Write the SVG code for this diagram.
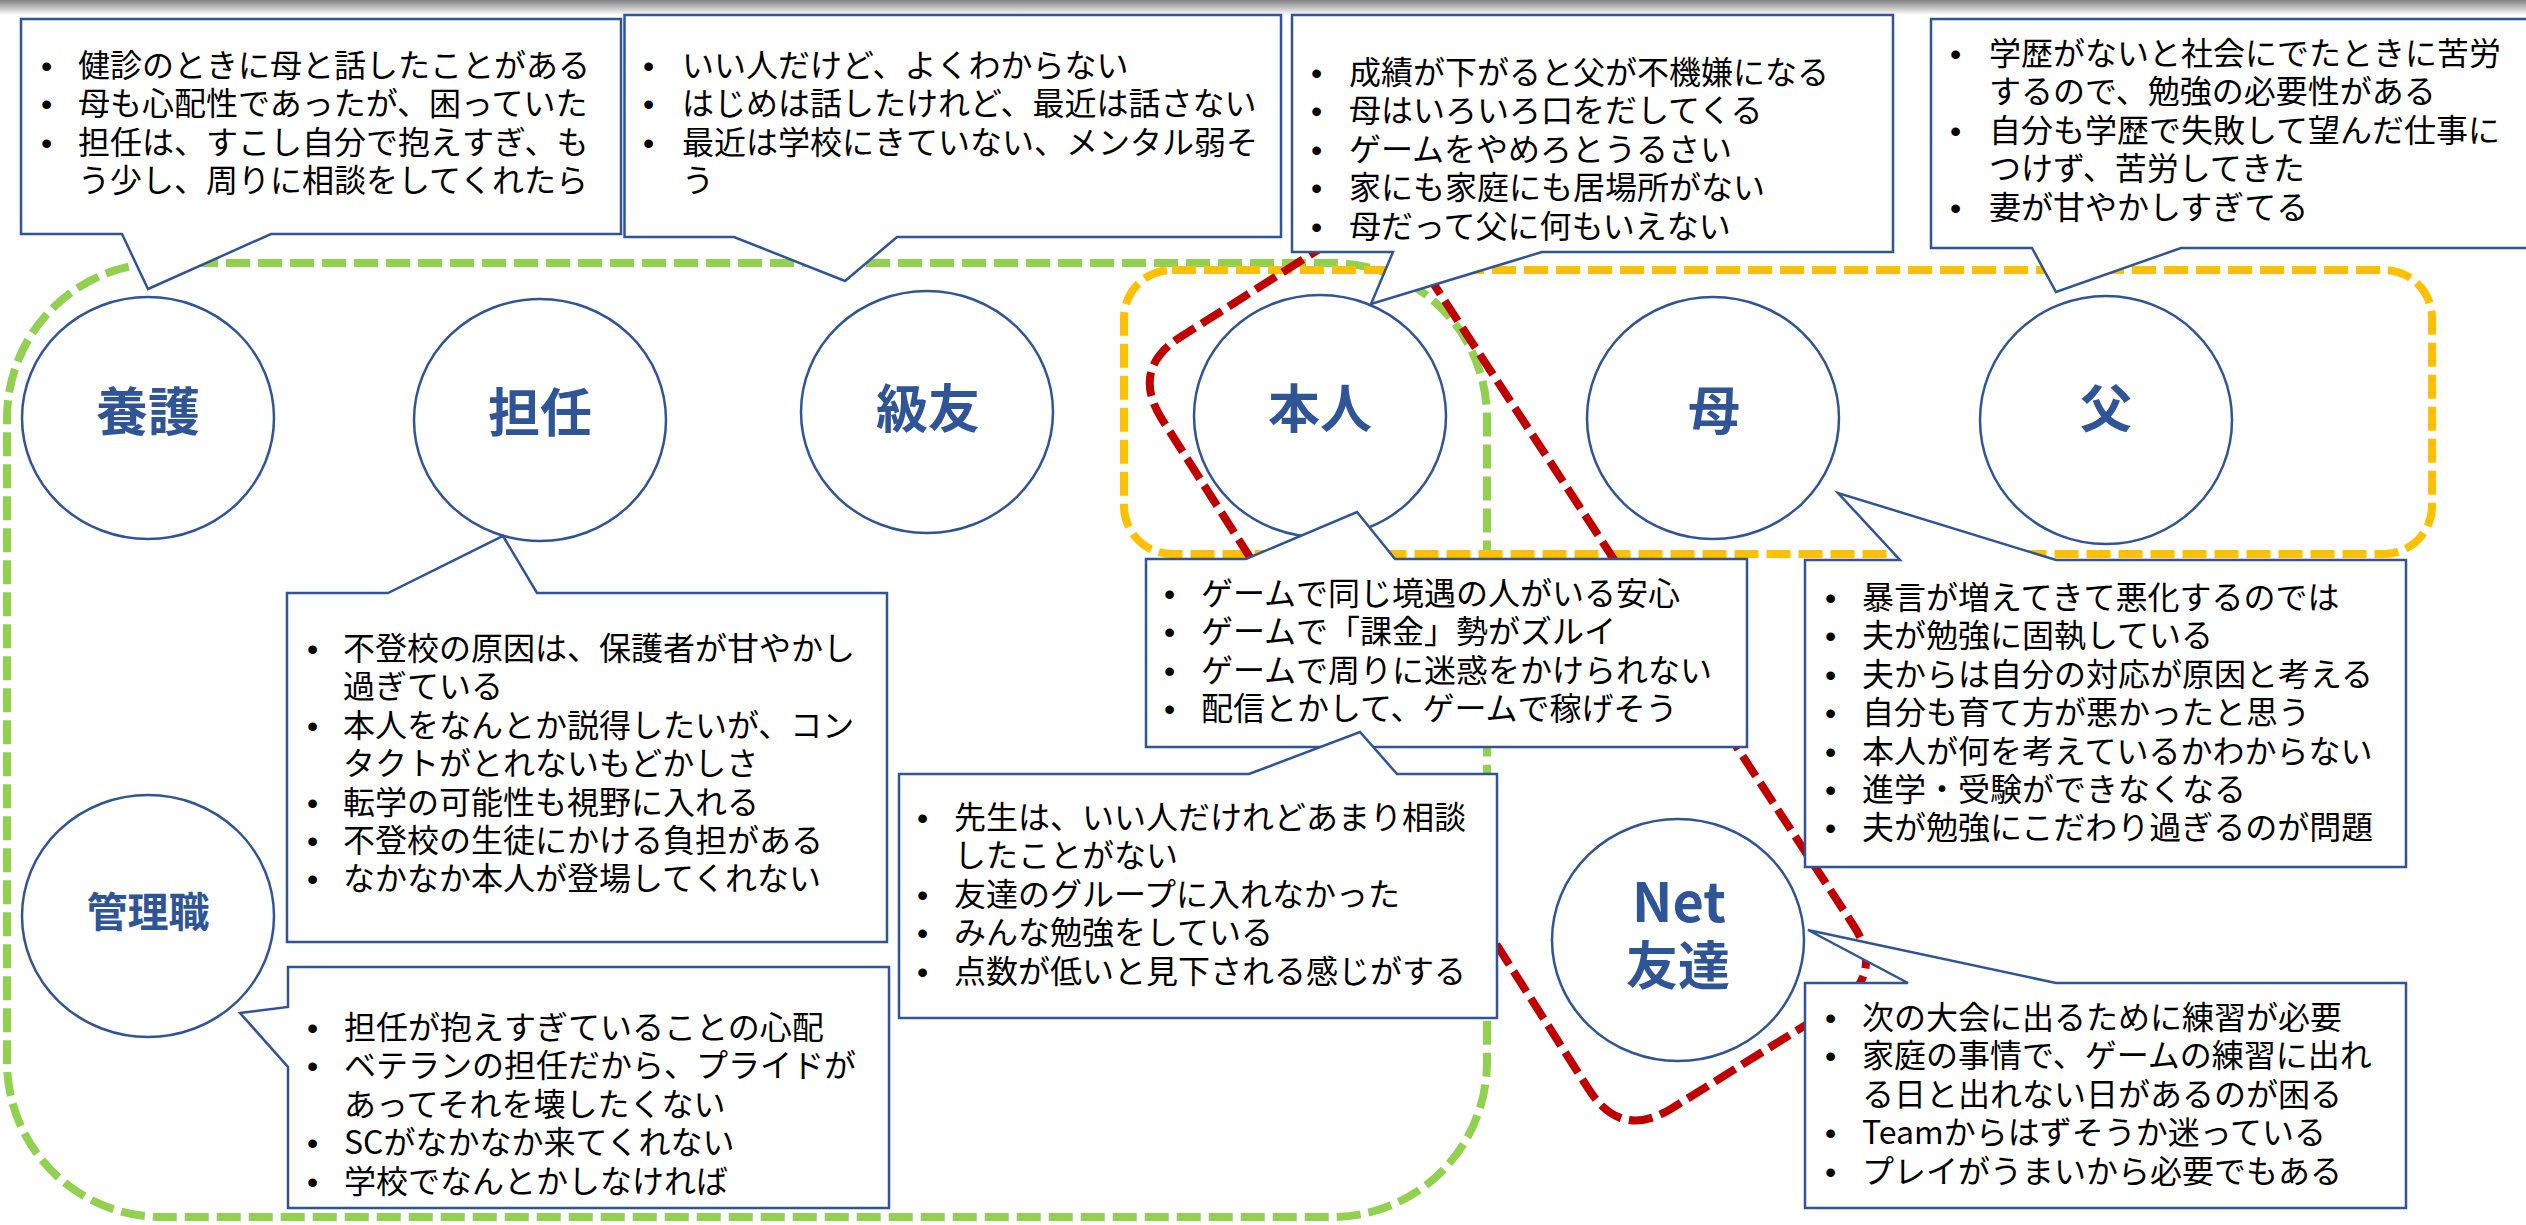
<svg xmlns="http://www.w3.org/2000/svg" width="2526" height="1225" viewBox="0 0 2526 1225">
<defs>
<linearGradient id="topShade" x1="0" y1="0" x2="0" y2="1">
<stop offset="0" stop-color="#808080"/>
<stop offset="1" stop-color="#ffffff"/>
</linearGradient>
</defs>
<style>
.t{font-family:"Noto Sans CJK JP","Liberation Sans",sans-serif;font-size:32px;fill:#000}
.b{font-family:"Liberation Sans","Noto Sans CJK JP",sans-serif}
.lbl{font-family:"Noto Sans CJK JP",sans-serif;font-weight:700;font-size:52px;fill:#2F5597;text-anchor:middle}
.node{fill:#fff;stroke:#2F5597;stroke-width:2.5}
.co{fill:#fff;stroke:#2F5597;stroke-width:2.5;stroke-linejoin:miter}
.enc{fill:none;stroke-width:8;stroke-dasharray:24 8}
</style>
<rect x="0" y="0" width="2526" height="1225" fill="#fff"/>
<rect x="0" y="0" width="2526" height="15" fill="url(#topShade)"/>

<g id="enclosures">
<rect x="7" y="263" width="1480" height="954" rx="155" ry="155" class="enc" stroke="#92D050"/>
<rect x="1124" y="270" width="1308" height="284" rx="48" ry="48" class="enc" stroke="#FFC000"/>
<path d="M1384,208 L1180.7,336.9 Q1130,369 1162.2,419.6 L1588.8,1089.4 Q1621,1140 1671.9,1108.3 L1835.1,1006.7 Q1886,975 1853.1,924.8 Z" class="enc" stroke="#C00000" stroke-linejoin="round"/>
</g>

<g id="node-yougo">
<ellipse cx="148" cy="418" rx="126" ry="121" class="node"/>
<text x="148" y="431" class="lbl">養護</text>
</g>
<g id="node-tannin">
<ellipse cx="540" cy="420" rx="126" ry="121" class="node"/>
<text x="540" y="432" class="lbl">担任</text>
</g>
<g id="node-kyuyu">
<ellipse cx="927" cy="412" rx="126" ry="121" class="node"/>
<text x="928" y="428" class="lbl">級友</text>
</g>
<g id="node-honnin">
<ellipse cx="1320" cy="416" rx="126" ry="121" class="node"/>
<text x="1320" y="428" class="lbl">本人</text>
</g>
<g id="node-haha">
<ellipse cx="1713" cy="418" rx="126" ry="121" class="node"/>
<text x="1714" y="430" class="lbl">母</text>
</g>
<g id="node-chichi">
<ellipse cx="2106" cy="420" rx="126" ry="124" class="node"/>
<text x="2106" y="428" class="lbl">父</text>
</g>
<g id="node-kanrishoku">
<ellipse cx="148" cy="916" rx="126" ry="121" class="node"/>
<text x="148" y="927" class="lbl" style="font-size:41px">管理職</text>
</g>
<g id="node-netfriend">
<ellipse cx="1678" cy="940" rx="126" ry="121" class="node"/>
<text x="1679" y="922" class="lbl" style="font-size:54px">Net<tspan x="1678" y="985" style="font-size:52px">友達</tspan></text>
</g>

<g id="callout-yougo">
<path d="M21,19 H621 V234 H271 L148,289 L122,234 H21 Z" class="co"/>
<text class="t"><tspan class="b" x="41" y="77">•</tspan><tspan x="78" y="77">健診のときに母と話したことがある</tspan><tspan class="b" x="41" y="115.4">•</tspan><tspan x="78" y="115.4">母も心配性であったが、困っていた</tspan><tspan class="b" x="41" y="153.8">•</tspan><tspan x="78" y="153.8">担任は、すこし自分で抱えすぎ、も</tspan><tspan x="78" y="192.2">う少し、周りに相談をしてくれたら</tspan></text>
</g>

<g id="callout-kyuyu-top">
<path d="M624.5,15 H1281 V237 H897 L845,281 L734,237 H624.5 Z" class="co"/>
<text class="t"><tspan class="b" x="643" y="77">•</tspan><tspan x="682" y="77">いい人だけど、よくわからない</tspan><tspan class="b" x="643" y="115.4">•</tspan><tspan x="682" y="115.4">はじめは話したけれど、最近は話さない</tspan><tspan class="b" x="643" y="153.8">•</tspan><tspan x="682" y="153.8">最近は学校にきていない、メンタル弱そ</tspan><tspan x="682" y="192.2">う</tspan></text>
</g>

<g id="callout-honnin-top">
<path d="M1292,15 H1893 V252 H1542 L1371,304 L1393,252 H1292 Z" class="co"/>
<text class="t"><tspan class="b" x="1311" y="84">•</tspan><tspan x="1349" y="84">成績が下がると父が不機嫌になる</tspan><tspan class="b" x="1311" y="122.4">•</tspan><tspan x="1349" y="122.4">母はいろいろ口をだしてくる</tspan><tspan class="b" x="1311" y="160.8">•</tspan><tspan x="1349" y="160.8">ゲームをやめろとうるさい</tspan><tspan class="b" x="1311" y="199.2">•</tspan><tspan x="1349" y="199.2">家にも家庭にも居場所がない</tspan><tspan class="b" x="1311" y="237.6">•</tspan><tspan x="1349" y="237.6">母だって父に何もいえない</tspan></text>
</g>

<g id="callout-chichi">
<path d="M1931,19 H2532 V248 H2181 L2056,292 L2032,248 H1931 Z" class="co"/>
<text class="t"><tspan class="b" x="1950" y="65">•</tspan><tspan x="1989" y="65">学歴がないと社会にでたときに苦労</tspan><tspan x="1989" y="103.4">するので、勉強の必要性がある</tspan><tspan class="b" x="1950" y="141.8">•</tspan><tspan x="1989" y="141.8">自分も学歴で失敗して望んだ仕事に</tspan><tspan x="1989" y="180.2">つけず、苦労してきた</tspan><tspan class="b" x="1950" y="218.6">•</tspan><tspan x="1989" y="218.6">妻が甘やかしすぎてる</tspan></text>
</g>

<g id="callout-tannin">
<path d="M287,593 H388 L503,536 L537,593 H887 V942 H287 Z" class="co"/>
<text class="t"><tspan class="b" x="307" y="660">•</tspan><tspan x="343" y="660">不登校の原因は、保護者が甘やかし</tspan><tspan x="343" y="698.4">過ぎている</tspan><tspan class="b" x="307" y="736.8">•</tspan><tspan x="343" y="736.8">本人をなんとか説得したいが、コン</tspan><tspan x="343" y="775.2">タクトがとれないもどかしさ</tspan><tspan class="b" x="307" y="813.6">•</tspan><tspan x="343" y="813.6">転学の可能性も視野に入れる</tspan><tspan class="b" x="307" y="852">•</tspan><tspan x="343" y="852">不登校の生徒にかける負担がある</tspan><tspan class="b" x="307" y="890.4">•</tspan><tspan x="343" y="890.4">なかなか本人が登場してくれない</tspan></text>
</g>

<g id="callout-kanrishoku">
<path d="M288,967 H889 V1208 H288 V1067 L240,1013 L288,1007 Z" class="co"/>
<text class="t"><tspan class="b" x="307" y="1039">•</tspan><tspan x="344" y="1039">担任が抱えすぎていることの心配</tspan><tspan class="b" x="307" y="1077.4">•</tspan><tspan x="344" y="1077.4">ベテランの担任だから、プライドが</tspan><tspan x="344" y="1115.8">あってそれを壊したくない</tspan><tspan class="b" x="307" y="1154.2">•</tspan><tspan x="344" y="1154.2">SCがなかなか来てくれない</tspan><tspan class="b" x="307" y="1192.6">•</tspan><tspan x="344" y="1192.6">学校でなんとかしなければ</tspan></text>
</g>

<g id="callout-honnin-bottom">
<path d="M1146,559 H1246 L1357,512 L1395,559 H1747 V747 H1146 Z" class="co"/>
<text class="t"><tspan class="b" x="1164" y="605">•</tspan><tspan x="1201" y="605">ゲームで同じ境遇の人がいる安心</tspan><tspan class="b" x="1164" y="643.4">•</tspan><tspan x="1201" y="643.4">ゲームで「課金」勢がズルイ</tspan><tspan class="b" x="1164" y="681.8">•</tspan><tspan x="1201" y="681.8">ゲームで周りに迷惑をかけられない</tspan><tspan class="b" x="1164" y="720.2">•</tspan><tspan x="1201" y="720.2">配信とかして、ゲームで稼げそう</tspan></text>
</g>

<g id="callout-kyuyu-bottom">
<path d="M899,774 H1249 L1360,732 L1397,774 H1497 V1018 H899 Z" class="co"/>
<text class="t"><tspan class="b" x="917" y="829">•</tspan><tspan x="954" y="829">先生は、いい人だけれどあまり相談</tspan><tspan x="954" y="867.4">したことがない</tspan><tspan class="b" x="917" y="905.8">•</tspan><tspan x="954" y="905.8">友達のグループに入れなかった</tspan><tspan class="b" x="917" y="944.2">•</tspan><tspan x="954" y="944.2">みんな勉強をしている</tspan><tspan class="b" x="917" y="982.6">•</tspan><tspan x="954" y="982.6">点数が低いと見下される感じがする</tspan></text>
</g>

<g id="callout-haha">
<path d="M1805,560 H1900 L1838,493 L2056,560 H2406 V867 H1805 Z" class="co"/>
<text class="t"><tspan class="b" x="1825" y="609">•</tspan><tspan x="1862" y="609">暴言が増えてきて悪化するのでは</tspan><tspan class="b" x="1825" y="647.4">•</tspan><tspan x="1862" y="647.4">夫が勉強に固執している</tspan><tspan class="b" x="1825" y="685.8">•</tspan><tspan x="1862" y="685.8">夫からは自分の対応が原因と考える</tspan><tspan class="b" x="1825" y="724.2">•</tspan><tspan x="1862" y="724.2">自分も育て方が悪かったと思う</tspan><tspan class="b" x="1825" y="762.6">•</tspan><tspan x="1862" y="762.6">本人が何を考えているかわからない</tspan><tspan class="b" x="1825" y="801">•</tspan><tspan x="1862" y="801">進学・受験ができなくなる</tspan><tspan class="b" x="1825" y="839.4">•</tspan><tspan x="1862" y="839.4">夫が勉強にこだわり過ぎるのが問題</tspan></text>
</g>

<g id="callout-netfriend">
<path d="M1805,983 H1908 L1808,930 L2056,983 H2406 V1208 H1805 Z" class="co"/>
<text class="t"><tspan class="b" x="1825" y="1029">•</tspan><tspan x="1862" y="1029">次の大会に出るために練習が必要</tspan><tspan class="b" x="1825" y="1067.4">•</tspan><tspan x="1862" y="1067.4">家庭の事情で、ゲームの練習に出れ</tspan><tspan x="1862" y="1105.8">る日と出れない日があるのが困る</tspan><tspan class="b" x="1825" y="1144.2">•</tspan><tspan x="1862" y="1144.2">Teamからはずそうか迷っている</tspan><tspan class="b" x="1825" y="1182.6">•</tspan><tspan x="1862" y="1182.6">プレイがうまいから必要でもある</tspan></text>
</g>
</svg>
